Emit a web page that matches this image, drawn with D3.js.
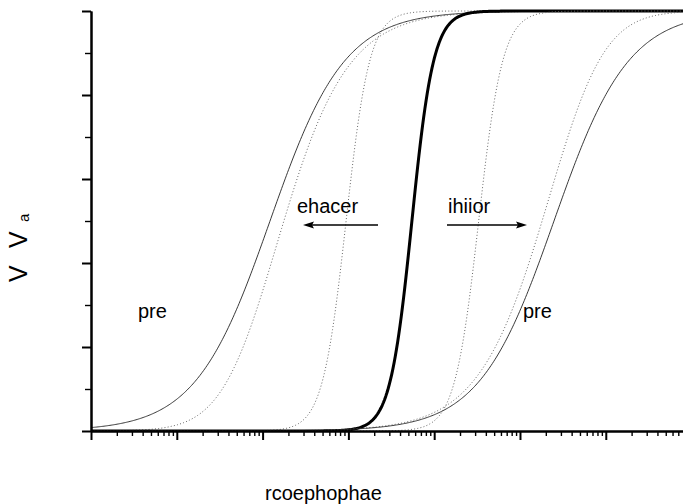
<!DOCTYPE html>
<html>
<head>
<meta charset="utf-8">
<script src="https://cdn.jsdelivr.net/npm/d3@7"></script>
<style>
  body { margin: 0; background: #fff; }
  svg { display: block; font-family: "Liberation Sans", Arial, Helvetica, sans-serif; }
</style>
</head>
<body>
<svg id="chart" width="683" height="504"></svg>
<script>
// Concentration-response curves. Each curve: half-saturation constant K, Hill slope n
// and a skew power s (s > 1: response = h^s, s < -1: response = 1 - (1 - h)^|s|,
// where h = 1 / (1 + (K / c)^n)).
const curveIds   = ["pureLeft", "enhancerStrong", "enhancerWeak", "agonist", "inhibitorWeak", "inhibitorStrong", "pureRight"];
const halfConc   = [0.122, 0.0733, 0.94, 5.5, 33, 437, 249];
const hillSlope  = [1.0, 1.0, 3.15, 3.43, 3.1, 1.0, 1.0];
const skewPower  = [1, 2, 1, 1, 1, -2, 1];
const curveKind  = ["thin", "dotted", "dotted", "thick", "dotted", "dotted", "thin"];

// Axis ticks (no labels are shown)
const xDecades   = [1e-3, 1e-2, 1e-1, 1, 10, 100, 1000];
const yMajor     = [0, 0.2, 0.4, 0.6, 0.8, 1.0];
const yMinor     = [0.1, 0.3, 0.5, 0.7, 0.9];

// Annotation text
const labels = [
  { text: "ehacer", x: 297, y: 213 },
  { text: "ihiior", x: 448, y: 213 },
  { text: "pre",    x: 138, y: 318 },
  { text: "pre",    x: 523, y: 318 }
];
const xTitle = "rcoephophae";

const svg = d3.select("#chart");
const m = { left: 91, right: 683, top: 11, bottom: 431 };

const x = d3.scaleLog().domain([1e-3, Math.pow(10, 3.9)]).range([m.left, m.right]);
const y = d3.scaleLinear().domain([0, 1]).range([m.bottom, m.top]);

// minor ticks 2..9 of every decade inside the domain
const xMinor = [];
xDecades.forEach(d => { for (let k = 2; k <= 9; k++) { const v = d * k; if (v <= x.domain()[1]) xMinor.push(v); } });

svg.append("defs").append("clipPath").attr("id", "plotClip")
  .append("rect").attr("x", m.left).attr("y", m.top - 2).attr("width", m.right - m.left).attr("height", m.bottom - m.top + 2);

function response(c, i) {
  const h = 1 / (1 + Math.pow(halfConc[i] / c, hillSlope[i]));
  const s = skewPower[i];
  return s >= 1 ? Math.pow(h, s) : 1 - Math.pow(1 - h, -s);
}

// curves
const nPts = 500;
const logLo = Math.log10(x.domain()[0]), logHi = Math.log10(x.domain()[1]);
const line = d3.line().x(d => x(d[0])).y(d => y(d[1])).curve(d3.curveLinear);

const styles = {
  thin:   { stroke: "#222", width: 0.9, dash: null },
  dotted: { stroke: "#666", width: 1.0, dash: "1,2.2" },
  thick:  { stroke: "#000", width: 3.0, dash: null }
};

const gCurves = svg.append("g").attr("clip-path", "url(#plotClip)");
curveIds.forEach((id, i) => {
  const pts = d3.range(nPts + 1).map(k => {
    const c = Math.pow(10, logLo + (logHi - logLo) * k / nPts);
    return [c, response(c, i)];
  });
  const s = styles[curveKind[i]];
  gCurves.append("path")
    .attr("class", "curve " + id)
    .attr("d", line(pts))
    .attr("fill", "none")
    .attr("stroke", s.stroke)
    .attr("stroke-width", s.width)
    .attr("stroke-dasharray", s.dash)
    .attr("stroke-linejoin", "round");
});

// axes
function styleAxis(g, w) {
  g.selectAll("path.domain").attr("stroke", "#000").attr("stroke-width", 2);
  g.selectAll(".tick line").attr("stroke", "#000").attr("stroke-width", w);
  g.selectAll(".tick text").remove();
}

const xAxisMinor = d3.axisBottom(x).tickValues(xMinor).tickSize(5).tickSizeOuter(0).tickFormat("");
const xAxisMajor = d3.axisBottom(x).tickValues(xDecades).tickSize(9).tickSizeOuter(0).tickFormat("");
svg.append("g").attr("transform", `translate(0,${m.bottom})`).call(xAxisMinor).call(g => styleAxis(g, 1.4));
svg.append("g").attr("transform", `translate(0,${m.bottom})`).call(xAxisMajor).call(g => styleAxis(g, 2));

const yAxisMinor = d3.axisLeft(y).tickValues(yMinor).tickSize(6).tickSizeOuter(0).tickFormat("");
const yAxisMajor = d3.axisLeft(y).tickValues(yMajor).tickSize(9).tickSizeOuter(0).tickFormat("");
svg.append("g").attr("transform", `translate(${m.left},0)`).call(yAxisMinor).call(g => styleAxis(g, 1.4));
svg.append("g").attr("transform", `translate(${m.left},0)`).call(yAxisMajor).call(g => styleAxis(g, 2));

// annotation labels
svg.selectAll("text.note").data(labels).join("text")
  .attr("class", "note")
  .attr("x", d => d.x).attr("y", d => d.y)
  .attr("font-size", 20).attr("fill", "#000")
  .text(d => d.text);

// arrows pointing towards lower (enhancer) and higher (inhibitor) concentrations
const arrows = [
  { x1: 378, x2: 303, y: 225 },
  { x1: 447, x2: 527, y: 225 }
];
const gArr = svg.append("g");
arrows.forEach(a => {
  const dir = Math.sign(a.x2 - a.x1);
  gArr.append("line")
    .attr("x1", a.x1).attr("y1", a.y).attr("x2", a.x2 - dir * 8).attr("y2", a.y)
    .attr("stroke", "#000").attr("stroke-width", 1.3);
  gArr.append("path")
    .attr("d", `M${a.x2},${a.y} L${a.x2 - dir * 11},${a.y - 3.5} L${a.x2 - dir * 9},${a.y} L${a.x2 - dir * 11},${a.y + 3.5} Z`)
    .attr("fill", "#000");
});

// axis titles
svg.append("text")
  .attr("x", 265).attr("y", 500)
  .attr("font-size", 20).attr("fill", "#000")
  .text(xTitle);

const yt = svg.append("text")
  .attr("transform", "translate(27,282) rotate(-90)")
  .attr("font-size", 25).attr("fill", "#000");
yt.append("tspan").attr("x", 0).attr("y", 0).text("V");
yt.append("tspan").attr("x", 34).attr("y", 0).text("V");
yt.append("tspan").attr("x", 60).attr("y", 2).attr("font-size", 15).text("a");
</script>
</body>
</html>
